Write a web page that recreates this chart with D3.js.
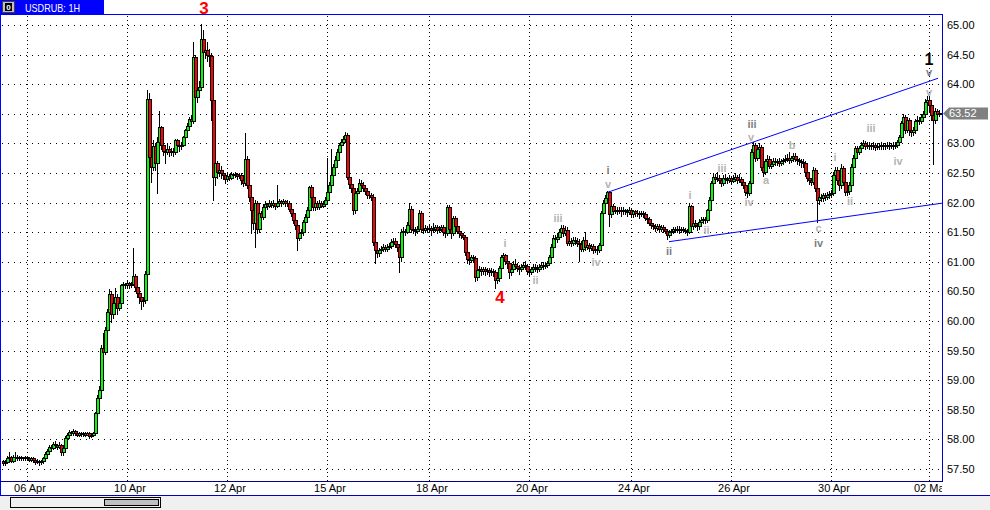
<!DOCTYPE html>
<html><head><meta charset="utf-8">
<script src="https://cdn.jsdelivr.net/npm/d3@7"></script>
<style>
html,body{margin:0;padding:0;background:#fff;}
svg{display:block;}
text{font-family:"Liberation Sans",Arial,sans-serif;}
</style></head><body>
<svg id="chart" width="990" height="510"></svg>
<script>
const symbolTitle = "USDRUB: 1H";
const firstOpen = 57.63;
const closes = [
57.60,57.62,57.69,57.70,57.64,57.70,57.71,57.68,57.70,57.69,
57.68,57.70,57.68,57.66,57.68,57.66,57.62,57.64,57.62,57.63,
57.69,57.75,57.80,57.87,57.86,57.92,57.90,57.88,57.91,57.78,
57.86,58.02,58.07,58.12,58.10,58.14,58.10,58.08,58.10,58.09,
58.10,58.08,58.10,58.06,58.08,58.10,58.44,58.70,58.84,59.55,
59.48,59.85,60.15,60.45,60.12,60.30,60.40,60.22,60.30,60.60,
60.62,60.60,60.64,60.60,60.63,60.76,60.58,60.47,60.40,60.34,
60.36,60.80,63.75,62.77,62.60,62.95,62.67,63.03,63.28,62.98,
62.88,62.86,62.90,62.86,62.88,62.85,63.05,62.98,62.95,62.98,
63.10,63.22,63.30,63.41,63.38,64.46,63.78,63.90,63.95,64.76,
64.54,64.58,64.50,64.48,63.73,62.43,62.67,62.52,62.55,62.50,
62.46,62.40,62.45,62.42,62.48,62.46,62.48,62.45,62.47,62.38,
62.33,62.74,62.30,62.10,61.87,61.65,62.00,61.55,61.82,61.76,
61.93,61.97,61.95,62.00,61.96,61.99,61.95,62.00,62.02,62.00,
62.03,61.99,62.00,61.90,61.83,61.70,61.62,61.40,61.48,61.50,
61.67,61.75,61.87,62.26,62.10,61.92,62.00,61.93,62.00,61.95,
61.98,62.05,62.18,62.30,62.47,62.60,62.72,62.85,62.97,63.03,
63.08,63.14,62.43,62.32,62.25,61.87,62.16,62.20,62.33,62.30,
62.25,62.20,62.13,62.12,62.10,61.33,61.20,61.15,61.20,61.22,
61.25,61.22,61.25,61.27,61.33,61.35,61.30,61.25,61.08,61.50,
61.52,61.50,61.62,61.90,61.55,61.54,61.52,61.56,61.82,61.55,
61.54,61.57,61.55,61.57,61.54,61.56,61.58,61.53,61.55,61.58,
61.50,61.48,61.93,61.55,61.49,61.74,61.60,61.52,61.48,61.45,
61.42,61.17,61.05,61.03,61.08,61.06,60.74,60.86,60.88,60.85,
60.88,60.84,60.86,60.83,60.85,60.82,60.69,60.72,60.90,61.08,
61.12,61.02,60.98,60.83,60.88,60.97,60.93,60.90,60.87,60.92,
60.95,60.93,60.85,60.83,60.88,60.92,60.90,60.88,60.92,60.95,
60.93,60.95,60.98,61.08,61.25,61.40,61.38,61.42,61.50,61.57,
61.48,61.54,61.32,61.35,61.32,61.37,61.35,61.32,61.30,61.22,
61.37,61.25,61.28,61.24,61.26,61.20,61.22,61.20,61.28,61.82,
62.00,62.08,62.18,61.80,61.95,61.85,61.88,61.86,61.88,61.85,
61.87,61.86,61.84,61.87,61.80,61.85,61.82,61.83,61.80,61.82,
61.80,61.74,61.72,61.66,61.62,61.60,61.57,61.60,61.56,61.58,
61.55,61.52,61.45,61.50,61.52,61.55,61.54,61.56,61.53,61.55,
61.54,61.52,61.50,61.94,61.60,61.65,61.62,61.60,61.68,61.70,
61.72,61.70,61.87,62.05,62.33,62.43,62.40,62.42,62.38,62.33,
62.42,62.40,62.38,62.41,62.37,62.40,62.43,62.38,62.40,62.35,
62.30,62.18,62.16,62.33,62.86,62.97,62.75,62.90,62.94,62.60,
62.52,62.70,62.74,62.62,62.65,62.70,62.68,62.70,62.67,62.70,
62.72,62.74,62.76,62.72,62.75,62.79,62.74,62.72,62.70,62.68,
62.67,62.52,62.41,62.38,62.35,62.55,62.25,62.04,62.10,62.08,
62.12,62.10,62.13,62.15,62.16,62.47,62.55,62.38,62.30,62.58,
62.35,62.18,62.20,62.30,62.60,62.75,62.92,62.85,62.92,62.98,
63.00,62.96,62.98,62.96,62.95,62.97,62.94,62.96,62.95,62.97,
62.95,62.96,62.98,62.95,62.97,62.96,62.98,63.02,63.10,63.34,
63.45,63.23,63.40,63.22,63.20,63.22,63.38,63.40,63.38,63.45,
63.50,63.70,63.73,63.65,63.48,63.40,63.55,63.50,63.52
];
const highs = [
57.66,57.65,57.72,57.78,57.72,57.73,57.78,57.73,57.72,57.72,
57.71,57.72,57.72,57.70,57.70,57.71,57.68,57.67,57.66,57.65,
57.71,57.78,57.83,57.90,57.90,57.96,57.98,57.93,57.95,57.93,
57.88,58.05,58.10,58.16,58.15,58.17,58.16,58.12,58.13,58.12,
58.12,58.12,58.12,58.12,58.10,58.12,58.46,58.75,58.90,59.60,
59.80,59.90,60.20,60.54,60.50,60.35,60.55,60.45,60.35,60.63,
60.66,60.65,60.67,60.66,60.66,61.23,60.80,60.60,60.50,60.45,
60.40,60.85,63.90,63.85,62.90,63.05,63.00,63.10,63.55,63.30,
63.05,62.95,63.00,62.95,62.93,62.92,63.08,63.08,63.00,63.02,
63.13,63.25,63.35,63.45,63.48,64.71,64.50,63.98,64.05,65.02,
64.92,64.70,64.72,64.60,64.52,63.80,62.72,62.70,62.62,62.62,
62.55,62.50,62.50,62.48,62.52,62.50,62.52,62.50,62.50,62.50,
62.42,63.18,62.78,62.35,62.15,61.92,62.05,62.02,61.88,61.86,
61.98,62.02,62.00,62.05,62.02,62.04,62.00,62.30,62.06,62.05,
62.06,62.05,62.04,62.02,61.93,61.86,61.75,61.65,61.52,61.55,
61.70,61.80,61.92,62.28,62.30,62.15,62.04,62.03,62.04,62.03,
62.02,62.10,62.75,62.35,62.90,62.65,62.78,62.90,63.00,63.07,
63.12,63.19,63.17,62.50,62.40,62.30,62.20,62.25,62.40,62.38,
62.35,62.30,62.25,62.18,62.16,62.14,61.38,61.26,61.24,61.26,
61.30,61.28,61.30,61.32,61.38,61.40,61.40,61.34,61.30,61.55,
61.58,61.56,61.68,62.00,61.94,61.60,61.58,61.60,61.88,61.85,
61.60,61.62,61.60,61.62,61.60,61.66,61.63,61.62,61.60,61.62,
61.62,61.55,61.96,61.96,61.60,61.78,61.78,61.64,61.56,61.52,
61.48,61.45,61.20,61.10,61.12,61.12,61.10,60.90,60.93,60.92,
60.92,60.91,60.90,60.90,60.89,60.88,60.86,60.76,60.93,61.12,
61.15,61.14,61.05,61.02,60.92,61.02,61.05,60.98,60.95,60.97,
61.00,61.02,60.97,60.92,60.92,60.97,60.96,60.95,60.96,61.00,
61.00,61.00,61.02,61.12,61.30,61.45,61.45,61.48,61.55,61.63,
61.62,61.60,61.58,61.40,61.40,61.42,61.42,61.40,61.38,61.35,
61.42,61.50,61.32,61.32,61.30,61.30,61.26,61.26,61.32,61.85,
62.05,62.12,62.20,62.19,61.98,61.98,61.92,61.92,61.92,61.92,
61.92,61.90,61.90,61.92,61.90,61.88,61.88,61.87,61.86,61.86,
61.86,61.84,61.78,61.75,61.70,61.66,61.64,61.64,61.64,61.62,
61.62,61.58,61.55,61.54,61.56,61.58,61.58,61.60,61.60,61.58,
61.58,61.57,61.55,62.00,61.96,61.70,61.70,61.66,61.72,61.75,
61.76,61.76,61.90,62.10,62.36,62.50,62.48,62.52,62.46,62.42,
62.46,62.48,62.44,62.46,62.44,62.46,62.50,62.47,62.48,62.44,
62.40,62.34,62.22,62.36,62.90,63.02,63.00,62.94,63.00,62.98,
62.66,62.74,62.80,62.78,62.70,62.75,62.76,62.74,62.76,62.74,
62.76,62.80,62.82,62.85,62.79,62.83,62.84,62.78,62.76,62.74,
62.74,62.70,62.58,62.46,62.42,62.60,62.58,62.30,62.14,62.15,
62.16,62.16,62.18,62.20,62.22,62.52,62.60,62.60,62.42,62.65,
62.62,62.40,62.26,62.35,62.65,62.80,62.96,62.96,62.96,63.02,
63.06,63.04,63.03,63.02,63.00,63.02,63.01,63.00,63.01,63.02,
63.01,63.00,63.02,63.03,63.01,63.02,63.03,63.06,63.15,63.38,
63.50,63.48,63.45,63.43,63.28,63.28,63.42,63.46,63.44,63.50,
63.55,63.75,63.80,63.78,63.70,63.55,63.60,63.58,63.56
];
const lows = [
57.56,57.57,57.60,57.66,57.62,57.62,57.68,57.65,57.66,57.66,
57.66,57.66,57.65,57.63,57.64,57.62,57.58,57.60,57.57,57.59,
57.60,57.66,57.72,57.78,57.82,57.84,57.86,57.84,57.85,57.74,
57.74,57.84,58.00,58.05,58.07,58.08,58.07,58.05,58.06,58.06,
58.06,58.05,58.07,58.03,58.04,58.06,58.08,58.40,58.68,58.80,
59.40,59.45,59.80,60.10,59.98,60.05,60.25,60.12,60.18,60.28,
60.57,60.56,60.58,60.56,60.58,60.60,60.50,60.40,60.30,60.20,
60.25,60.30,60.70,62.70,62.35,62.55,62.55,62.16,62.95,62.90,
62.80,62.67,62.82,62.78,62.80,62.78,62.82,62.90,62.88,62.90,
62.95,63.05,63.18,63.25,63.30,63.35,63.70,63.70,63.82,63.90,
64.36,64.45,64.40,64.30,63.40,62.04,62.30,62.42,62.45,62.42,
62.40,62.33,62.36,62.38,62.40,62.42,62.43,62.40,62.42,62.32,
62.28,62.30,62.25,62.02,61.49,61.55,61.25,61.48,61.50,61.70,
61.72,61.90,61.90,61.92,61.92,61.93,61.90,61.92,61.97,61.95,
61.97,61.95,61.95,61.86,61.78,61.65,61.55,61.20,61.36,61.44,
61.46,61.62,61.70,61.83,62.05,61.88,61.88,61.90,61.90,61.92,
61.92,61.94,62.02,62.14,62.25,62.42,62.55,62.68,62.80,62.93,
63.00,63.04,62.40,62.25,62.18,61.80,61.82,62.12,62.16,62.25,
62.20,62.15,62.08,62.07,62.05,61.28,60.98,61.08,61.10,61.16,
61.18,61.18,61.19,61.22,61.24,61.30,61.25,61.18,60.83,61.02,
61.45,61.45,61.48,61.58,61.50,61.48,61.46,61.48,61.52,61.50,
61.48,61.50,61.50,61.52,61.46,61.50,61.52,61.48,61.50,61.52,
61.46,61.42,61.45,61.50,61.40,61.45,61.55,61.48,61.42,61.40,
61.38,61.12,60.98,60.97,61.00,61.00,60.68,60.70,60.82,60.78,
60.80,60.78,60.80,60.76,60.78,60.76,60.56,60.64,60.68,60.86,
61.02,60.96,60.90,60.72,60.78,60.84,60.87,60.84,60.80,60.84,
60.88,60.88,60.80,60.77,60.80,60.85,60.84,60.83,60.84,60.88,
60.88,60.89,60.92,60.95,61.04,61.20,61.32,61.34,61.38,61.45,
61.44,61.45,61.28,61.28,61.26,61.28,61.30,61.27,61.02,61.18,
61.18,61.20,61.22,61.18,61.20,61.15,61.16,61.14,61.16,61.25,
61.75,61.95,62.02,61.60,61.75,61.80,61.82,61.80,61.82,61.78,
61.80,61.80,61.78,61.80,61.75,61.76,61.78,61.77,61.74,61.77,
61.75,61.70,61.66,61.62,61.57,61.55,61.52,61.53,61.50,61.52,
61.50,61.48,61.38,61.42,61.47,61.48,61.50,61.50,61.49,61.50,
61.50,61.48,61.45,61.48,61.56,61.56,61.58,61.54,61.56,61.64,
61.66,61.65,61.68,61.84,62.00,62.28,62.35,62.36,62.33,62.28,
62.30,62.35,62.33,62.34,62.32,62.34,62.37,62.33,62.35,62.30,
62.25,62.12,62.10,62.12,62.30,62.80,62.70,62.72,62.86,62.55,
62.45,62.48,62.66,62.58,62.58,62.62,62.63,62.64,62.62,62.64,
62.66,62.68,62.70,62.67,62.68,62.71,62.70,62.66,62.64,62.60,
62.60,62.45,62.36,62.32,62.30,62.32,62.20,61.67,61.98,62.02,
62.03,62.04,62.06,62.08,62.10,62.12,62.42,62.32,62.22,62.25,
62.30,62.12,62.12,62.15,62.26,62.55,62.70,62.78,62.82,62.88,
62.94,62.90,62.92,62.91,62.90,62.91,62.89,62.90,62.90,62.91,
62.90,62.91,62.92,62.90,62.92,62.91,62.93,62.94,62.98,63.05,
63.28,63.18,63.20,63.15,63.12,63.15,63.18,63.33,63.32,63.34,
63.40,63.45,63.65,63.55,63.40,62.65,63.35,63.45,63.46
];
const xTickBars = [12, 62, 112, 162, 213, 263, 314, 364, 414, 463];
const xTickLabels = ["06 Apr","10 Apr","12 Apr","15 Apr","18 Apr","20 Apr","24 Apr","26 Apr","30 Apr","02 May"];
const yTicks = [57.5,58.0,58.5,59.0,59.5,60.0,60.5,61.0,61.5,62.0,62.5,63.0,63.5,64.0,64.5,65.0];
const lastPrice = 63.52;
const channelUpper = [[302, 62.17], [467.5, 64.10]];
const channelLower = [[333, 61.34], [469.5, 61.99]];
const waveText  = ["3","4","1","v","v","i","v","ii","i","ii","iii","iv","iii","v","a","b","c","iv","i","ii","iii","iv","i","ii","iii","iv"];
const waveBar   = [100.5,248.5,463,463,463,302.5,302.5,333,343.5,351.75,359.5,373,374.5,374,381.5,394.5,407.75,407.75,416,423.5,434,447.5,251,266.25,277.5,296.5];
const wavePrice = [65.29,60.41,64.43,64.20,63.87,62.55,62.31,61.19,62.13,61.54,62.59,62.01,63.33,63.11,62.38,62.98,61.57,61.32,62.77,62.02,63.26,62.71,61.31,60.70,61.74,60.99];
const waveDegree= ["primary","primary","intermediate","minor","minute","minor","minute","minor","minute","minute","minute","minute","minor","minute","minute","minute","minute","minor","minute","minute","minute","minute","minute","minute","minute","minute"];

const svg = d3.select("#chart");
const W = 990, H = 510;
const frame = {left: 0.5, top: 14.5, right: 942.5, bottom: 481.5};
const x = d3.scaleLinear().domain([0, closes.length - 1]).range([3, 939]);
const y = d3.scaleLinear().domain([57.5, 65]).range([469, 25]);

svg.append("rect").attr("x",0).attr("y",0).attr("width",W).attr("height",H).attr("fill","#fff");

// gridlines
const grid = svg.append("g").attr("shape-rendering","crispEdges");
grid.selectAll("line.h").data(yTicks).join("line")
  .attr("x1", 2).attr("x2", 942)
  .attr("y1", d => Math.round(y(d)) + 0.5).attr("y2", d => Math.round(y(d)) + 0.5)
  .attr("stroke","#000").attr("stroke-dasharray","1,5");
grid.selectAll("line.v").data(xTickBars).join("line")
  .attr("x1", d => Math.round(x(d)) + 0.5).attr("x2", d => Math.round(x(d)) + 0.5)
  .attr("y1", 16).attr("y2", 481)
  .attr("stroke","#000").attr("stroke-dasharray","1,3");

// candles
const bars = closes.map((c, i) => {
  const o = i === 0 ? firstOpen : closes[i - 1];
  return {i, o, c, h: highs[i], l: lows[i]};
});
const cg = svg.append("g").attr("shape-rendering","crispEdges");
cg.selectAll("line.wick").data(bars).join("line")
  .attr("x1", d => Math.round(x(d.i)) + 0.5).attr("x2", d => Math.round(x(d.i)) + 0.5)
  .attr("y1", d => Math.round(y(Math.max(d.h, d.o, d.c))))
  .attr("y2", d => Math.round(y(Math.min(d.l, d.o, d.c))) + 1)
  .attr("stroke","#000");
const topY = d => Math.round(y(Math.max(d.o, d.c)));
const botY = d => Math.round(y(Math.min(d.o, d.c)));
const bodies = cg.selectAll("g.body").data(bars).join("g");
bodies.append("rect")
  .attr("x", d => Math.round(x(d.i)) - 1)
  .attr("y", topY)
  .attr("width", 4)
  .attr("height", d => Math.max(1, botY(d) - topY(d) + 1))
  .attr("fill","#000");
bodies.append("rect")
  .attr("x", d => Math.round(x(d.i)))
  .attr("y", d => topY(d) + 1)
  .attr("width", 2)
  .attr("height", d => Math.max(0, botY(d) - topY(d) - 1))
  .attr("fill", d => d.c >= d.o ? "#00ff00" : "#ff0000");

// channel lines
[channelUpper, channelLower].forEach(pts => {
  svg.append("line")
    .attr("x1", x(pts[0][0])).attr("y1", y(pts[0][1]))
    .attr("x2", x(pts[1][0])).attr("y2", y(pts[1][1]))
    .attr("stroke","#0000ff").attr("stroke-width",1);
});

// frame
const fr = svg.append("g").attr("shape-rendering","crispEdges");
fr.append("rect").attr("x",943).attr("y",0).attr("width",47).attr("height",495).attr("fill","#fff");
fr.append("line").attr("x1",0).attr("x2",frame.right).attr("y1",frame.top).attr("y2",frame.top).attr("stroke","#0000ff");
fr.append("line").attr("x1",frame.left).attr("x2",frame.left).attr("y1",0).attr("y2",496).attr("stroke","#0000ff");
fr.append("line").attr("x1",frame.right).attr("x2",frame.right).attr("y1",frame.top).attr("y2",frame.bottom).attr("stroke","#0000cd");
fr.append("line").attr("x1",0).attr("x2",frame.right).attr("y1",frame.bottom).attr("y2",frame.bottom).attr("stroke","#00008b");

// x labels (clipped at frame)
svg.append("clipPath").attr("id","xclip").append("rect").attr("x",0).attr("y",482).attr("width",942).attr("height",13);
svg.append("g").attr("clip-path","url(#xclip)")
  .selectAll("text").data(xTickBars).join("text")
  .attr("x", d => Math.round(x(d)) + 3).attr("y", 492)
  .attr("text-anchor","middle").attr("font-size","11px").attr("fill","#000")
  .text((d, k) => xTickLabels[k]);

// y labels (the one hidden under the current-price marker is not drawn)
const py = Math.round(y(lastPrice)) + 0.5;
svg.append("g").selectAll("text").data(yTicks.filter(t => Math.abs(y(t) - py) > 9)).join("text")
  .attr("x", 947).attr("y", d => y(d)).attr("dy","0.36em")
  .attr("font-size","11px").attr("fill","#000")
  .text(d => d3.format(".2f")(d));

// current price marker
svg.append("polygon")
  .attr("points", `943,${py} 949,${py-6} 988,${py-6} 988,${py+6} 949,${py+6}`)
  .attr("fill","#808080");
svg.append("text").attr("x",949).attr("y",py).attr("dy","0.36em")
  .attr("font-size","11px").attr("fill","#fff").text(d3.format(".2f")(lastPrice));

// bottom band & scrollbar
const bb = svg.append("g").attr("shape-rendering","crispEdges");
bb.append("rect").attr("x",0).attr("y",496).attr("width",W).attr("height",14).attr("fill","#f0f0f0");
bb.append("line").attr("x1",0).attr("x2",W).attr("y1",495.5).attr("y2",495.5).attr("stroke","#0000cd");
bb.append("rect").attr("x",10.5).attr("y",497.5).attr("width",150).attr("height",10).attr("fill","#f0f0f0").attr("stroke","#000");
bb.append("rect").attr("x",104.5).attr("y",499.5).attr("width",54).attr("height",6).attr("fill","#c0c0c0").attr("stroke","#000");

// title tab
const tt = svg.append("g").attr("shape-rendering","crispEdges");
tt.append("rect").attr("x",0).attr("y",0).attr("width",104).attr("height",14).attr("fill","#0000ff");
tt.append("rect").attr("x",2.5).attr("y",1.5).attr("width",12).attr("height",11).attr("fill","#c0c0c0").attr("stroke","#404040");
tt.append("rect").attr("x",5).attr("y",3).attr("width",7).attr("height",8).attr("fill","#000");
svg.append("text").attr("x",8.5).attr("y",10).attr("text-anchor","middle").attr("font-size","8px").attr("font-weight","bold").attr("fill","#fff").text("0");
svg.append("text").attr("x",25).attr("y",11.5).attr("font-size","11px").attr("fill","#fff")
  .attr("textLength",55).attr("lengthAdjust","spacingAndGlyphs").text(symbolTitle);

// wave labels
const degreeColor = {primary:"#ff0000", intermediate:"#000000", minor:"#808080", minute:"#b4b4b4"};
const degreeSize = {primary:"17px", intermediate:"16px", minor:"11px", minute:"11px"};
svg.append("g").selectAll("text").data(waveText).join("text")
  .attr("x", (d, k) => x(waveBar[k])).attr("y", (d, k) => y(wavePrice[k]))
  .attr("dy","0.36em").attr("text-anchor","middle").attr("font-weight","bold")
  .attr("font-size", (d, k) => degreeSize[waveDegree[k]])
  .attr("fill", (d, k) => degreeColor[waveDegree[k]])
  .text(d => d);
</script>
</body></html>
